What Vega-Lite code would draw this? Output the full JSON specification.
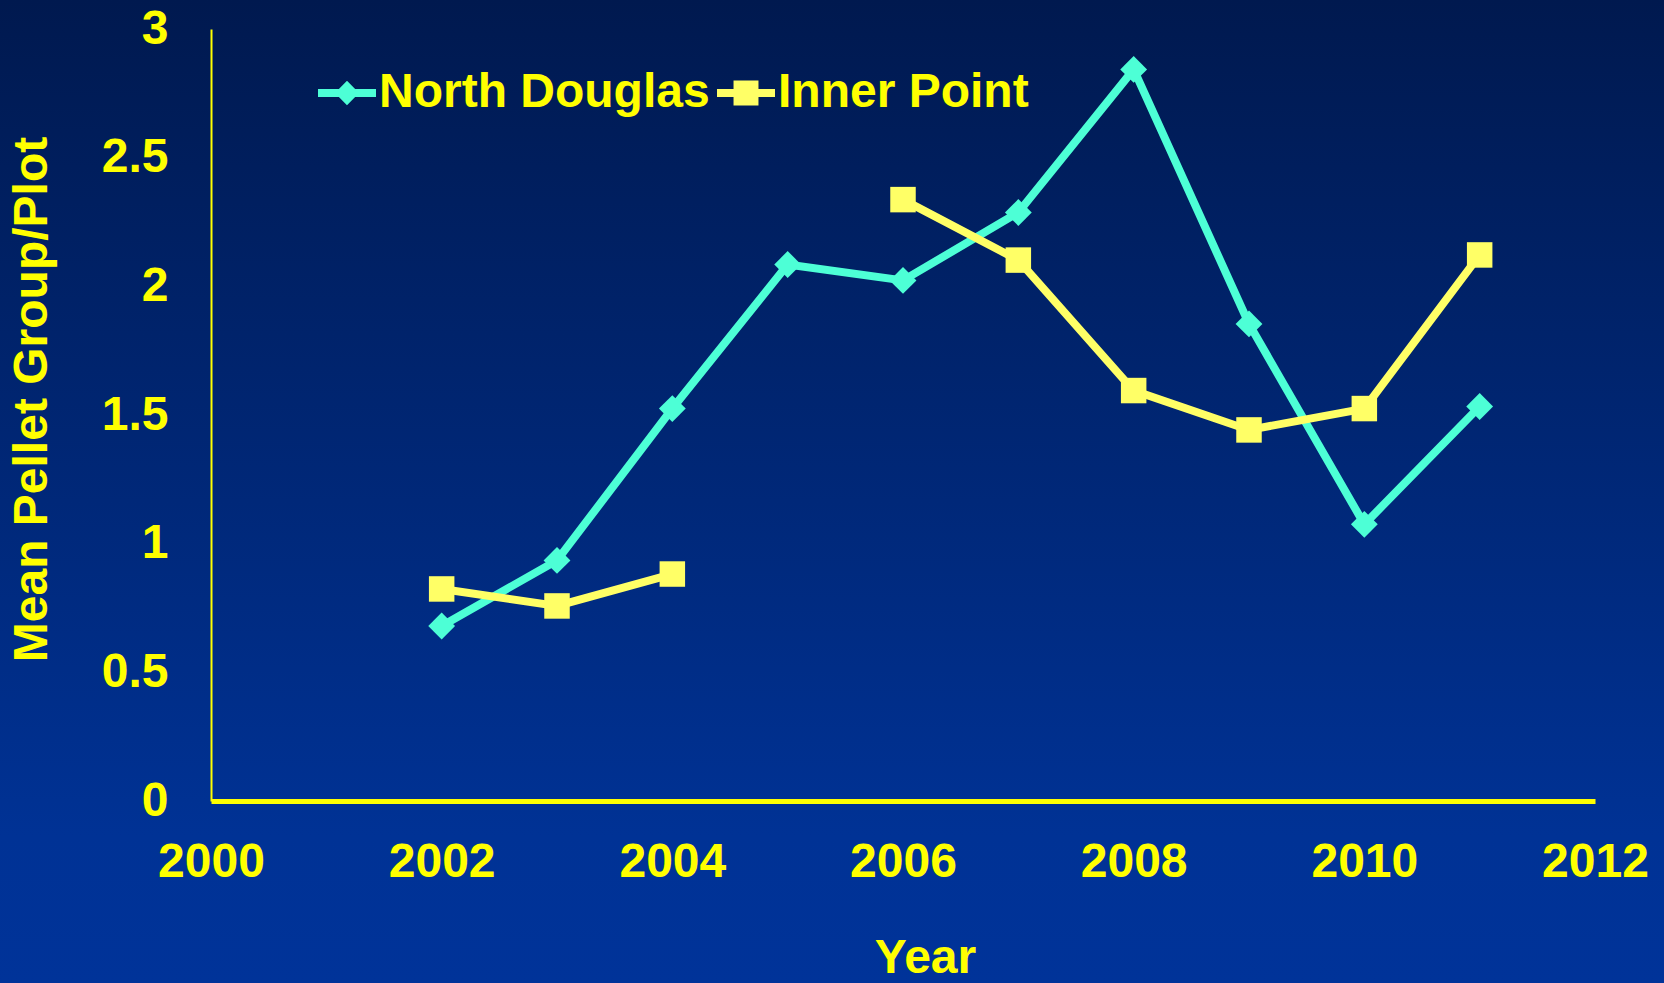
{
  "$schema": "https://vega.github.io/schema/vega-lite/v6.json",
  "width": 1664,
  "height": 983,
  "autosize": {"type": "none"},
  "padding": 0,
  "background": "#00287f",
  "config": {
    "view": {
      "stroke": null,
      "fill": {"gradient": "linear", "x1": 0, "y1": 0, "x2": 0, "y2": 1,
        "stops": [{"offset": 0, "color": "#00194f"}, {"offset": 0.85, "color": "#003295"}, {"offset": 1, "color": "#003399"}]}
    },
    "font": "Liberation Sans",
    "legend": {
      "orient": "none", "legendX": 318, "legendY": 64, "direction": "horizontal",
      "title": null, "labelFont": "Liberation Sans", "labelFontWeight": "bold",
      "labelFontSize": 48, "labelColor": "#FFFF00", "labelLimit": 1000,
      "symbolSize": 3364, "labelOffset": 3, "columnPadding": 7,
      "symbolStrokeWidth": 0, "symbolOpacity": 1
    }
  },
  "data": {
    "values": [
      {"Year": 2002, "series": "North Douglas", "value": 0.68},
      {"Year": 2003, "series": "North Douglas", "value": 0.935},
      {"Year": 2004, "series": "North Douglas", "value": 1.525},
      {"Year": 2005, "series": "North Douglas", "value": 2.085},
      {"Year": 2006, "series": "North Douglas", "value": 2.023},
      {"Year": 2007, "series": "North Douglas", "value": 2.287},
      {"Year": 2008, "series": "North Douglas", "value": 2.843},
      {"Year": 2009, "series": "North Douglas", "value": 1.854},
      {"Year": 2010, "series": "North Douglas", "value": 1.075},
      {"Year": 2011, "series": "North Douglas", "value": 1.533},
      {"Year": 2002, "series": "Inner Point", "value": 0.824},
      {"Year": 2003, "series": "Inner Point", "value": 0.758},
      {"Year": 2004, "series": "Inner Point", "value": 0.882},
      {"Year": 2005, "series": "Inner Point", "value": null},
      {"Year": 2006, "series": "Inner Point", "value": 2.337},
      {"Year": 2007, "series": "Inner Point", "value": 2.102},
      {"Year": 2008, "series": "Inner Point", "value": 1.595},
      {"Year": 2009, "series": "Inner Point", "value": 1.442},
      {"Year": 2010, "series": "Inner Point", "value": 1.525},
      {"Year": 2011, "series": "Inner Point", "value": 2.122}
    ]
  },
  "encoding": {
    "x": {
      "field": "Year", "type": "quantitative",
      "scale": {"domain": [2000, 2012], "range": [211, 1595], "nice": false, "zero": false},
      "axis": {
        "title": "Year", "orient": "bottom", "offset": -182,
        "values": [2000, 2002, 2004, 2006, 2008, 2010, 2012], "format": "d",
        "grid": false, "ticks": false, "tickSize": 0,
        "domainColor": "#FFFF00", "domainWidth": 5,
        "labelFont": "Liberation Sans", "labelFontWeight": "bold", "labelFontSize": 48,
        "labelColor": "#FFFF00", "labelPadding": 37, "labelFlush": false, "labelOverlap": false,
        "titleFont": "Liberation Sans", "titleFontWeight": "bold", "titleFontSize": 48,
        "titleColor": "#FFFF00", "titleX": 925, "titleY": 171, "titleAlign": "center",
        "titleBaseline": "alphabetic", "titleAnchor": null
      }
    },
    "y": {
      "field": "value", "type": "quantitative",
      "scale": {"domain": [0, 3], "range": [801, 29], "nice": false},
      "axis": {
        "title": "Mean Pellet Group/Plot", "orient": "left", "offset": -211,
        "values": [0, 0.5, 1, 1.5, 2, 2.5, 3], "format": "~g",
        "grid": false, "ticks": false, "tickSize": 0,
        "domainColor": "#FFFF00", "domainWidth": 2,
        "labelFont": "Liberation Sans", "labelFontWeight": "bold", "labelFontSize": 48,
        "labelColor": "#FFFF00", "labelPadding": 43, "labelFlush": false, "labelOverlap": false,
        "titleFont": "Liberation Sans", "titleFontWeight": "bold", "titleFontSize": 48,
        "titleColor": "#FFFF00", "titleX": -179, "titleY": 399, "titleAngle": -90,
        "titleAlign": "center", "titleBaseline": "middle", "titleAnchor": null
      }
    },
    "color": {
      "field": "series", "type": "nominal",
      "scale": {"domain": ["North Douglas", "Inner Point"], "range": ["#4DFFD6", "#FFFF66"]},
      "legend": {
        "encode": {
          "symbols": {
            "update": {
              "shape": {"signal": "datum.value === 'North Douglas' ? 'M-1,-0.14L-0.28,-0.14L0,-0.42L0.28,-0.14L1,-0.14L1,0.14L0.28,0.14L0,0.42L-0.28,0.14L-1,0.14Z' : 'M-1,-0.14L-0.43,-0.14L-0.43,-0.43L0.43,-0.43L0.43,-0.14L1,-0.14L1,0.14L0.43,0.14L0.43,0.43L-0.43,0.43L-0.43,0.14L-1,0.14Z'"},
              "fill": {"signal": "datum.value === 'North Douglas' ? '#4DFFD6' : '#FFFF66'"},
              "stroke": {"value": null},
              "opacity": {"value": 1}
            }
          }
        }
      }
    }
  },
  "layer": [
    {
      "mark": {"type": "line", "strokeWidth": 8, "invalid": "break-paths-show-domains"}
    },
    {
      "transform": [{"filter": "datum.series === 'North Douglas'"}],
      "mark": {"type": "point", "shape": "diamond", "filled": true, "opacity": 1, "size": 720, "strokeWidth": 0}
    },
    {
      "transform": [{"filter": "datum.series === 'Inner Point'"}],
      "mark": {"type": "point", "shape": "square", "filled": true, "opacity": 1, "size": 650, "strokeWidth": 0}
    }
  ]
}
